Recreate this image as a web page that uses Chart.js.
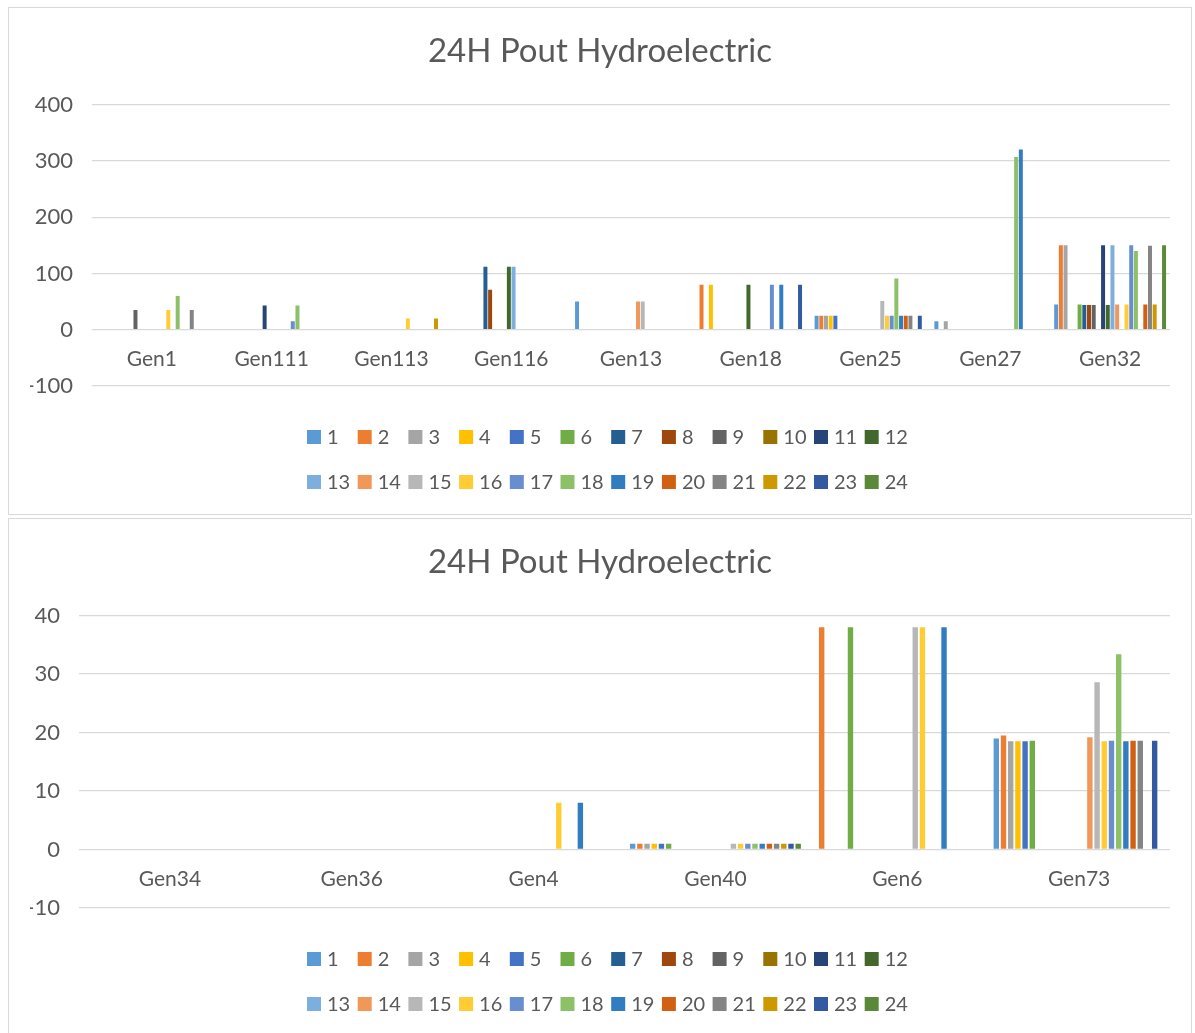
<!DOCTYPE html>
<html>
<head>
<meta charset="utf-8">
<title>24H Pout Hydroelectric</title>
<script src="https://cdn.jsdelivr.net/npm/chart.js@4.4.1/dist/chart.umd.min.js"></script>
<style>
body{margin:0;background:#fff;overflow:hidden;}
.panel{position:absolute;left:8px;width:1184px;border:1px solid #d9d9d9;box-sizing:border-box;background:#fff;}
#p1{top:7px;height:508px;}
#p2{top:518px;height:519px;}
</style>
</head>
<body>
<div class="panel" id="p1"><canvas id="chart1"></canvas></div>
<div class="panel" id="p2"><canvas id="chart2"></canvas></div>
<script>
var _ = null;
var hours = ['1','2','3','4','5','6','7','8','9','10','11','12',
             '13','14','15','16','17','18','19','20','21','22','23','24'];

// top chart, one row of 24 hourly values per generator
var gens1 = ['Gen1','Gen111','Gen113','Gen116','Gen13','Gen18','Gen25','Gen27','Gen32'];
var gen1   = [_,_,_,_,_,_,_,_,35,_,_,_,_,_,_,35,_,60,_,_,35,_,_,_];
var gen111 = [_,_,_,_,_,_,_,_,_,_,43,_,_,_,_,_,15,43,_,_,_,_,_,_];
var gen113 = [_,_,_,_,_,_,_,_,_,_,_,_,_,_,_,20,_,_,_,_,_,20,_,_];
var gen116 = [_,_,_,_,_,_,112,71,_,_,_,112,112,_,_,_,_,_,_,_,_,_,_,_];
var gen13  = [50,_,_,_,_,_,_,_,_,_,_,_,_,50,50,_,_,_,_,_,_,_,_,_];
var gen18  = [_,80,_,80,_,_,_,_,_,_,_,80,_,_,_,_,80,_,80,_,_,_,80,_];
var gen25  = [25,25,25,25,25,_,_,_,_,_,_,_,_,_,51,25,25,91,25,25,25,_,25,_];
var gen27  = [15,_,15,_,_,_,_,_,_,_,_,_,_,_,_,_,_,307,320,_,_,_,_,_];
var gen32  = [45,150,150,_,_,45,44,44,44,_,150,44,150,45,_,45,150,140,_,45,149,45,_,150];
var ticks1 = [-100, 400, 100];

// bottom chart
var gens2 = ['Gen34','Gen36','Gen4','Gen40','Gen6','Gen73'];
var gen34 = [_,_,_,_,_,_,_,_,_,_,_,_,_,_,_,_,_,_,_,_,_,_,_,_];
var gen36 = [_,_,_,_,_,_,_,_,_,_,_,_,_,_,_,_,_,_,_,_,_,_,_,_];
var gen4  = [_,_,_,_,_,_,_,_,_,_,_,_,_,_,_,8,_,_,8,_,_,_,_,_];
var gen40 = [1,1,1,1,1,1,_,_,_,_,_,_,_,_,1,1,1,1,1,1,1,1,1,1];
var gen6  = [_,38,_,_,_,38,_,_,_,_,_,_,_,_,38,38,_,_,38,_,_,_,_,_];
var gen73 = [19,19.5,18.5,18.5,18.5,18.6,_,_,_,_,_,_,_,19.2,28.6,18.5,18.6,33.4,18.5,18.6,18.6,_,18.6,_];
var ticks2 = [-10, 40, 10];

var colors = ['#5B9BD5','#ED7D31','#A5A5A5','#FFC000','#4472C4','#70AD47',
              '#255E91','#9E480E','#636363','#997300','#264478','#43682B',
              '#7CAFDD','#F1975A','#B7B7B7','#FFCD33','#698ED0','#8CC168',
              '#327DC2','#D26012','#848484','#CC9A00','#335AA1','#5A8A39'];

var FONT = 'Lato';
var TXT = '#595959';

// excel style legend, two rows of 12 fixed columns
var gridLegend = {
  id: 'gridLegend',
  afterDraw: function(chart){
    var ctx = chart.ctx;
    var sets = chart.data.datasets;
    var x0 = chart.width/2 - 293;
    var colW = 50.7;
    ctx.save();
    ctx.font = '20px ' + FONT;
    ctx.textBaseline = 'middle';
    ctx.textAlign = 'left';
    for(var i=0;i<sets.length;i++){
      var row = Math.floor(i/12), col = i%12;
      var x = x0 + col*colW;
      var y = chart.chartArea.bottom + 51 + row*45;
      ctx.fillStyle = sets[i].backgroundColor;
      ctx.fillRect(x, y-7, 14, 14);
      ctx.fillStyle = TXT;
      ctx.fillText(sets[i].label, x+20, y+1);
    }
    ctx.restore();
  }
};

function makeChart(id, gens, rows, ticks, axisW, barPct, catPct){
  var datasets = [];
  for(var h=0;h<hours.length;h++){
    datasets.push({
      label: hours[h],
      data: rows.map(function(r){ return r[h]; }),
      backgroundColor: colors[h],
      borderWidth: 0,
      barPercentage: barPct,
      categoryPercentage: catPct
    });
  }
  return new Chart(document.getElementById(id), {
    type: 'bar',
    data: { labels: gens, datasets: datasets },
    options: {
      responsive: true,
      maintainAspectRatio: false,
      animation: false,
      layout: { padding: { left: 21, right: 21, top: 0, bottom: 128 } },
      plugins: {
        legend: { display: false },
        tooltip: { enabled: false },
        title: {
          display: true,
          text: '24H Pout Hydroelectric',
          color: TXT,
          font: { family: FONT, size: 33, weight: 'normal' },
          padding: { top: 24, bottom: 33 }
        }
      },
      scales: {
        x: {
          position: { y: 0 },
          grid: { display: false },
          border: { display: false },
          ticks: { color: TXT, font: { family: FONT, size: 21 }, padding: 9 }
        },
        y: {
          min: ticks[0],
          max: ticks[1],
          afterFit: function(scale){ scale.width = axisW; },
          grid: { color: '#d9d9d9', lineWidth: 1.3, drawTicks: false },
          border: { display: false },
          ticks: { stepSize: ticks[2], color: TXT, font: { family: FONT, size: 22 }, padding: 19 }
        }
      }
    },
    plugins: [gridLegend]
  });
}

makeChart('chart1', gens1, [gen1,gen111,gen113,gen116,gen13,gen18,gen25,gen27,gen32], ticks1, 62, 0.85, 0.94);
makeChart('chart2', gens2, [gen34,gen36,gen4,gen40,gen6,gen73], ticks2, 49, 0.75, 0.95);
</script>
</body>
</html>
